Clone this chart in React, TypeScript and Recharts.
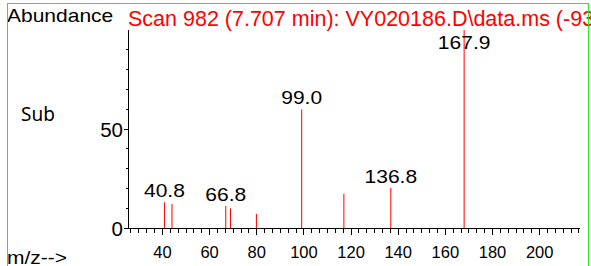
import React from "react";
import { ComposedChart, Bar, XAxis, YAxis, LabelList } from "recharts";

// peaks
const mzValues = [40.8, 44.0, 66.8, 68.8, 79.8, 99.0, 116.9, 136.8, 167.9];
const abundanceValues = [13.0, 12.1, 11.1, 9.9, 7.1, 59.9, 17.2, 20.2, 100];
const peakLabels = ["40.8", "", "66.8", "", "", "99.0", "", "136.8", "167.9"];

const xTickLabels = [40, 60, 80, 100, 120, 140, 160, 180, 200];
const yTickLabels = [0, 50];

const chartTitle = "Scan 982 (7.707 min): VY020186.D\\data.ms (-93";

const data = mzValues.map((mz, i) => ({
  mz,
  abundance: abundanceValues[i],
  label: peakLabels[i] || undefined,
}));

const FONT = '"Liberation Sans", Arial, Helvetica, sans-serif';
const STRETCH = 1.13;

// minor ticks every 10/3 on m/z, every 10 on abundance
const xTicks: number[] = [];
for (let k = -4; k <= 53; k++) xTicks.push(40 + (k * 10) / 3);
const yTicks = [0, 10, 20, 30, 40, 50, 60, 70, 80, 90];

function XTick({ x, y, payload }: any) {
  const v = payload.value;
  const major = xTickLabels.some((t) => Math.abs(t - v) < 0.01);
  return (
    <g>
      <line x1={x} x2={x} y1={y} y2={y + (major ? 7 : 5)} stroke="#000" shapeRendering="crispEdges" />
      {major && (
        <text x={x} y={y + 30} textAnchor="middle" fontSize={16.5} fontFamily={FONT} fill="#000">
          {Math.round(v)}
        </text>
      )}
    </g>
  );
}

function YTick({ x, y, payload }: any) {
  const major = yTickLabels.includes(payload.value);
  return (
    <g>
      <line x1={x - (major ? 4 : 2.5)} x2={x} y1={y} y2={y} stroke="#000" shapeRendering="crispEdges" />
      {major && (
        <text x={x - 5} y={y + 7.5} textAnchor="end" fontSize={20.5} fontFamily={FONT} fill="#000">
          {payload.value}
        </text>
      )}
    </g>
  );
}

function Stick({ x, y, width, height }: any) {
  const cx = x + width / 2;
  return <line x1={cx} x2={cx} y1={y} y2={y + height} stroke="#ff0000" strokeWidth={1} />;
}

function PeakLabel({ x, y, width, value }: any) {
  if (!value) return null;
  const cx = Number(x) + Number(width) / 2;
  const by = Math.max(Number(y) - 5, 49);
  return (
    <text
      transform={`translate(${cx},${by}) scale(${STRETCH},1)`}
      textAnchor="middle"
      fontSize={18.6}
      fontFamily={FONT}
      fill="#000"
    >
      {value}
    </text>
  );
}

export default function App() {
  return (
    <div style={{ position: "absolute", left: 0, top: 0, width: 591, height: 266, background: "#fff" }}>
      <ComposedChart width={591} height={266} data={data} margin={{ top: 30, right: 11, left: 0, bottom: 0 }}>
        <XAxis
          type="number"
          dataKey="mz"
          domain={[25.4, 217.1]}
          allowDataOverflow
          ticks={xTicks}
          interval={0}
          tick={<XTick />}
          tickLine={false}
          tickSize={0}
          tickMargin={0}
          height={38}
          axisLine={{ stroke: "#000", shapeRendering: "crispEdges" }}
        />
        <YAxis
          type="number"
          domain={[0, 100]}
          allowDataOverflow
          ticks={yTicks}
          interval={0}
          tick={<YTick />}
          tickLine={false}
          tickSize={0}
          tickMargin={0}
          width={128}
          axisLine={{ stroke: "#000", shapeRendering: "crispEdges" }}
        />
        <Bar dataKey="abundance" barSize={1} shape={<Stick />} isAnimationActive={false}>
          <LabelList dataKey="label" content={<PeakLabel />} />
        </Bar>
      </ComposedChart>
      <svg
        width={591}
        height={266}
        style={{ position: "absolute", left: 0, top: 0, pointerEvents: "none", overflow: "hidden" }}
      >
        <text transform={`translate(7,22) scale(${STRETCH},1)`} fontSize={18.6} fontFamily={FONT} fill="#000">
          Abundance
        </text>
        <text x={128} y={26} fontSize={21.5} fontFamily={FONT} fill="#ff0000">
          {chartTitle}
        </text>
        <text x={21} y={121} fontSize={19} fontFamily='"Noto Sans", "Open Sans", sans-serif' fill="#000">
          Sub
        </text>
        <text transform={`translate(7,264) scale(${STRETCH},1)`} fontSize={18.6} fontFamily={FONT} fill="#000">
          m/z--&gt;
        </text>
        <rect x={7.5} y={3.5} width={581} height={290} fill="none" stroke="#2ee62e" strokeWidth={1} />
      </svg>
    </div>
  );
}
